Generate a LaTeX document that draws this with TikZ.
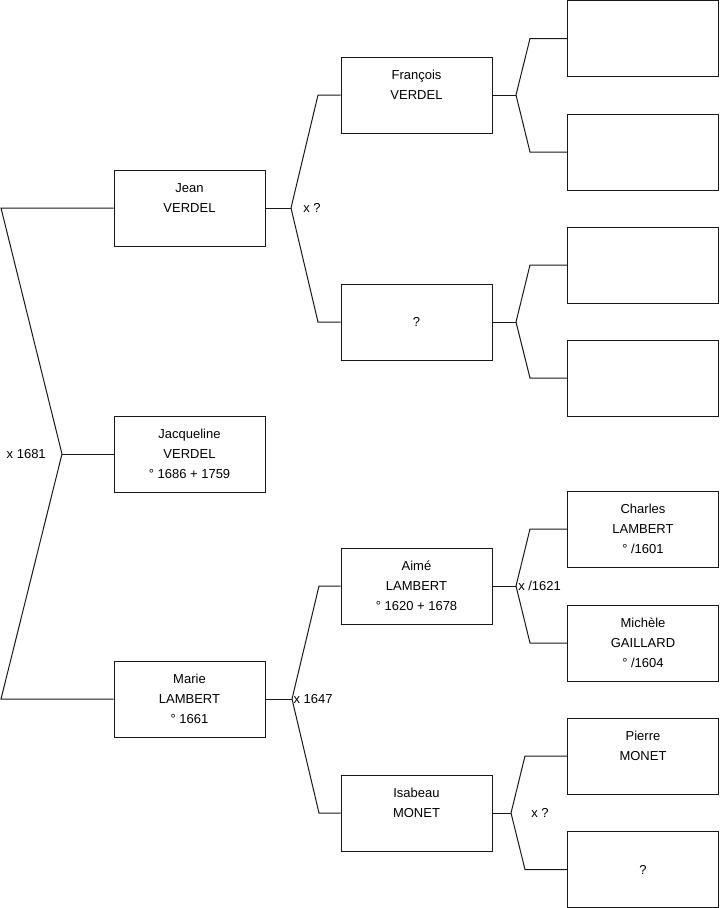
\documentclass[tikz,border=0pt]{standalone}
\usepackage{fontspec}
\setmainfont{Liberation Sans}
\usepackage{tikz}
\usetikzlibrary{positioning}
\definecolor{figline}{RGB}{25,25,25}
\newcommand{\colA}{189.5}
\newcommand{\colB}{416.5}
\newcommand{\colC}{643}
\tikzset{
  pbox/.style ={draw=figline,line width=0.75pt,minimum width=113.25pt,minimum height=57pt,
                inner sep=0pt,align=center,font=\fontsize{9.75pt}{15pt}\selectfont},
  fline/.style={draw=figline,line width=0.75pt},
  mlab/.style ={inner sep=0pt,font=\fontsize{9.75pt}{15pt}\selectfont},
}
\newcommand{\pbox}[4]{\node[pbox] (#1) at (#2,#3) {#4};}
% fork from a child to its two parents: name, child anchor, fork x, corner x, father, mother
\newcommand{\famfork}[6]{%
  \coordinate (#1) at (#3,0 |- #2);
  \draw[fline] (#2) -- (#1);
  \draw[fline] (#1) -- (#4,0 |- #5.west) -- (#5.west);
  \draw[fline] (#1) -- (#4,0 |- #6.west) -- (#6.west);
}

\begin{document}
\begin{tikzpicture}[x=0.75pt,y=-0.75pt]
  \useasboundingbox (0,0) rectangle (719,908);
  \pbox{jean}{\colA}{208}{Jean\\VERDEL\\\mbox{}}
  \pbox{jacq}{\colA}{454}{Jacqueline\\VERDEL\\° 1686 + 1759}
  \pbox{marie}{\colA}{699}{Marie\\LAMBERT\\° 1661}
  \pbox{franc}{\colB}{95}{François\\VERDEL\\\mbox{}}
  \pbox{inco}{\colB}{322}{?}
  \pbox{aime}{\colB}{586}{Aimé\\LAMBERT\\° 1620 + 1678}
  \pbox{isab}{\colB}{813}{Isabeau\\MONET\\\mbox{}}
  \pbox{ffa}{\colC}{38.5}{}
  \pbox{fmo}{\colC}{152}{}
  \pbox{ifa}{\colC}{265}{}
  \pbox{imo}{\colC}{378}{}
  \pbox{charles}{\colC}{529}{Charles\\LAMBERT\\° /1601}
  \pbox{michele}{\colC}{643}{Michèle\\GAILLARD\\° /1604}
  \pbox{pierre}{\colC}{756}{Pierre\\MONET\\\mbox{}}
  \pbox{smo}{\colC}{869.5}{?}
  \famfork{f0}{jacq.west}{62}{1}{jean}{marie}
  \famfork{f1}{jean.east}{291}{318}{franc}{inco}
  \famfork{f2}{marie.east}{292}{319}{aime}{isab}
  \famfork{f3}{franc.east}{516}{530}{ffa}{fmo}
  \famfork{f4}{inco.east}{516}{530}{ifa}{imo}
  \famfork{f5}{aime.east}{516}{530}{charles}{michele}
  \famfork{f6}{isab.east}{511}{525}{pierre}{smo}
  \node[mlab,left=12pt of f0] (m0) {x 1681};
  \node[mlab,right=9pt of f1] (m1) {x ?};
  \node[mlab,right=1pt of f2] (m2) {x 1647};
  \node[mlab,right=1.5pt of f5] (m5) {x /1621};
  \node[mlab,right=15pt of f6] (m6) {x ?};
\end{tikzpicture}
\end{document}
